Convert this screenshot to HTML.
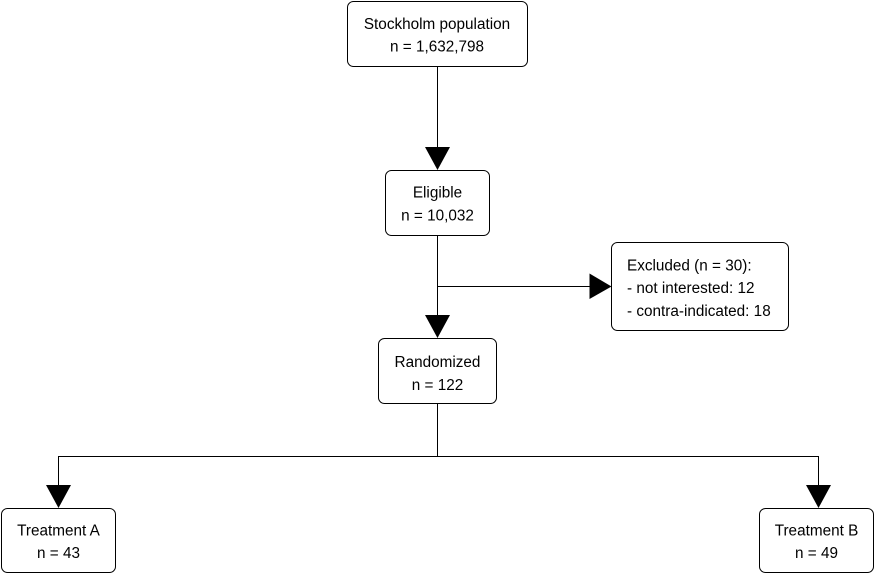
<!DOCTYPE html>
<html>
<head>
<meta charset="utf-8">
<style>
  html, body { margin: 0; padding: 0; background: #ffffff; }
  body { width: 875px; height: 574px; overflow: hidden; }
  svg { display: block; }
  text { font-family: "Liberation Sans", Arial, sans-serif; font-size: 15.3px; fill: #000; }
</style>
</head>
<body>
<svg width="875" height="574" viewBox="0 0 875 574" xmlns="http://www.w3.org/2000/svg">
  <g fill="none" stroke="#000" stroke-width="1">
    <!-- connectors -->
    <line x1="437.5" y1="66" x2="437.5" y2="149"/>
    <line x1="437.5" y1="235" x2="437.5" y2="317"/>
    <line x1="437.5" y1="286.5" x2="590" y2="286.5"/>
    <line x1="437.5" y1="403" x2="437.5" y2="456.5"/>
    <line x1="58.5" y1="456.5" x2="818.5" y2="456.5"/>
    <line x1="58.5" y1="456" x2="58.5" y2="486"/>
    <line x1="818.5" y1="456" x2="818.5" y2="486"/>
  </g>
  <g fill="#000" stroke="none">
    <!-- arrowheads -->
    <polygon points="425,147 450,147 437.5,170"/>
    <polygon points="425,315 450,315 437.5,338"/>
    <polygon points="589.5,273.5 589.5,299 611.5,286.5"/>
    <polygon points="46,485 71,485 58.5,508"/>
    <polygon points="806,485 831,485 818.5,508"/>
  </g>
  <g fill="#fff" stroke="#000" stroke-width="1">
    <rect x="347.5" y="1.5" width="180" height="65" rx="6" ry="6"/>
    <rect x="385.5" y="170.5" width="104" height="65" rx="6" ry="6"/>
    <rect x="378.5" y="338.5" width="118" height="65" rx="6" ry="6"/>
    <rect x="611.5" y="242.5" width="177" height="88" rx="6" ry="6"/>
    <rect x="1.5" y="508.5" width="114" height="64" rx="6" ry="6"/>
    <rect x="759.5" y="508.5" width="114" height="64" rx="6" ry="6"/>
  </g>
  <g text-anchor="middle">
    <text x="437" y="29">Stockholm population</text>
    <text x="437" y="51.5">n = 1,632,798</text>
    <text x="437.5" y="197.5">Eligible</text>
    <text x="437.5" y="220.5">n = 10,032</text>
    <text x="437.5" y="367">Randomized</text>
    <text x="437.5" y="390">n = 122</text>
    <text x="58.5" y="535.5">Treatment A</text>
    <text x="58.5" y="558">n = 43</text>
    <text x="816.5" y="535.5">Treatment B</text>
    <text x="816.5" y="558">n = 49</text>
  </g>
  <g text-anchor="start">
    <text x="627" y="270.5">Excluded (n = 30):</text>
    <text x="627" y="293">- not interested: 12</text>
    <text x="627" y="316">- contra-indicated: 18</text>
  </g>
</svg>
</body>
</html>
